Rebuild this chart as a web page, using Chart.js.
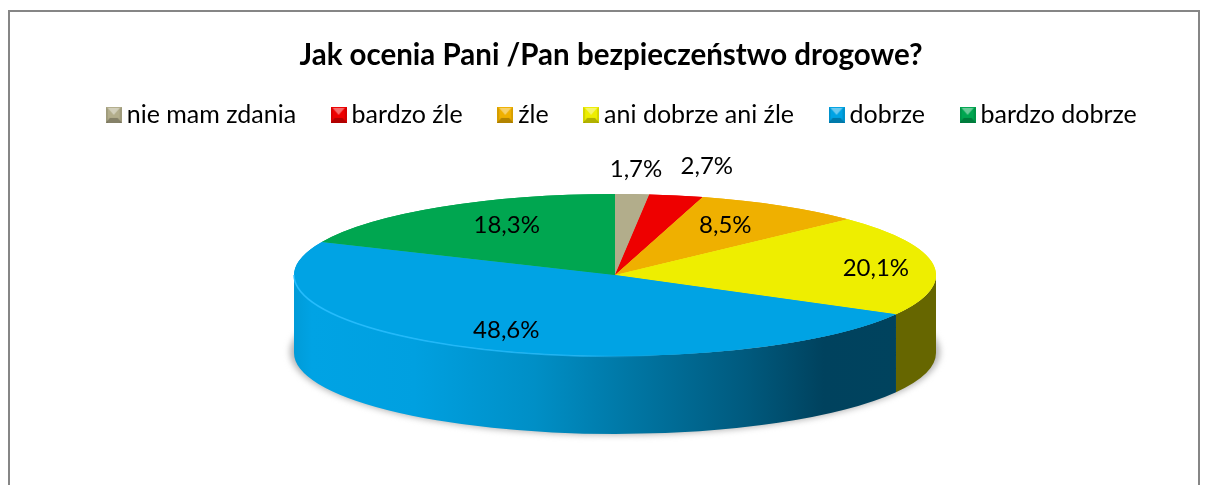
<!DOCTYPE html>
<html><head><meta charset="utf-8">
<style>html,body{margin:0;padding:0;background:#fff}canvas{display:block}</style>
<script src="https://cdn.jsdelivr.net/npm/chart.js@4"></script>
</head><body><canvas id="c" width="1208" height="485"></canvas>
<script>
const categories = ['nie mam zdania','bardzo źle','źle','ani dobrze ani źle','dobrze','bardzo dobrze'];
const values = [1.7,2.7,8.5,20.1,48.6,18.3];
const valueLabels = ['1,7%','2,7%','8,5%','20,1%','48,6%','18,3%'];
const colors = ['#B2AD8B','#EE0000','#EFB000','#EEEE00','#00A3E4','#00A650'];
const titleText = 'Jak ocenia Pani /Pan bezpieczeństwo drogowe?';
const labelNudge = [[9,-49],[49,-53],[-6,-1.5],[38,0],[-8.5,5],[14,-2]];
const wallStops = [
  [null,null],[null,null],[null,null],
  [[0,'#666600'],[1,'#666600']],
  [[0,'#009BD8'],[0.03,'#00A3E4'],[0.2,'#00A0E0'],[0.4,'#008FC6'],[0.55,'#0078A6'],[0.75,'#005A7E'],[0.88,'#00425E'],[1,'#00435E']],
  [null,null]
];
const DISC = {cx:615, cy:275, rx:321, ry:81, depth:78};
const FONT = 'Lato, Carlito, sans-serif';
const LEGEND_SHIFT = 14;

function marker(col){
  const c=document.createElement('canvas');c.width=16;c.height=16;
  const x=c.getContext('2d');
  x.fillStyle=col;x.fillRect(0,0,16,16);
  const tri=(pts,fill)=>{x.beginPath();pts.forEach((p,i)=>i?x.lineTo(p[0],p[1]):x.moveTo(p[0],p[1]));x.closePath();x.fillStyle=fill;x.fill();};
  tri([[2,1],[14,1],[8,8]],'rgba(255,255,255,0.42)');
  tri([[0,16],[16,16],[12,11],[4,11]],'rgba(0,0,0,0.25)');
  tri([[0,0],[2,2],[2,16],[0,16]],'rgba(0,0,0,0.10)');
  tri([[16,0],[14,2],[14,16],[16,16]],'rgba(0,0,0,0.10)');
  return c;
}

const pie3d = {
  id:'pie3d',
  afterLayout(chart){ chart.legend.left+=LEGEND_SHIFT; chart.legend.right+=LEGEND_SHIFT; },
  beforeDraw(chart){
    const g=chart.ctx;
    g.save();g.strokeStyle='#868686';g.lineWidth=2;g.strokeRect(9,11,1190,520);g.restore();
  },
  beforeDatasetsDraw(chart){
    const g=chart.ctx, arcs=chart.getDatasetMeta(0).data, d=DISC;
    g.save();g.filter='blur(3px)';g.fillStyle='#b4b4b4';
    g.beginPath();g.ellipse(d.cx,d.cy+d.depth-1,d.rx+4,d.ry+2,0,0,Math.PI*2);g.fill();g.restore();
    arcs.forEach((a,i)=>{
      const s=Math.max(a.startAngle,0), e=Math.min(a.endAngle,Math.PI);
      if(e<=s||!wallStops[i][0])return;
      const gr=g.createLinearGradient(d.cx+d.rx*Math.cos(e),0,d.cx+d.rx*Math.cos(s),0);
      wallStops[i].forEach(st=>gr.addColorStop(st[0],st[1]));
      g.fillStyle=gr;g.beginPath();
      g.ellipse(d.cx,d.cy,d.rx,d.ry,0,s,e);
      g.ellipse(d.cx,d.cy+d.depth,d.rx,d.ry,0,e,s,true);
      g.closePath();g.fill();
    });
    const a0=arcs[0], R=a0.outerRadius;
    g.save();
    g.translate(d.cx,d.cy);g.scale(d.rx/R,d.ry/R);g.translate(-a0.x,-a0.y);
    for(let p=0;p<2;p++)arcs.forEach(a=>a.draw(g));
    g.restore();
    const hl=g.createLinearGradient(d.cx-d.rx,0,d.cx+40,0);
    hl.addColorStop(0,'rgba(40,190,255,0.9)');hl.addColorStop(0.8,'rgba(40,190,255,0.7)');hl.addColorStop(1,'rgba(40,190,255,0)');
    g.save();g.strokeStyle=hl;g.lineWidth=1.5;g.beginPath();
    g.ellipse(d.cx,d.cy,d.rx,d.ry+0.5,0,Math.PI/2*0.9,Math.PI);g.stroke();g.restore();
    g.save();g.fillStyle='#000';g.font='24px '+FONT;g.textAlign='center';g.textBaseline='middle';
    arcs.forEach((a,i)=>{
      const m=(a.startAngle+a.endAngle)/2;
      g.fillText(valueLabels[i],d.cx+d.rx*0.7*Math.cos(m)+labelNudge[i][0],d.cy+d.ry*0.7*Math.sin(m)+labelNudge[i][1]);
    });
    g.restore();
    return false;
  },
  beforeDatasetDraw(){return false;}
};

new Chart(document.getElementById('c'),{
  type:'doughnut',
  plugins:[pie3d],
  data:{labels:categories,datasets:[{data:values,backgroundColor:colors,borderWidth:0,hoverOffset:0}]},
  options:{
    responsive:false,animation:false,cutout:0,
    layout:{padding:{top:20,left:14,right:0,bottom:0}},
    plugins:{
      tooltip:{enabled:false},
      title:{display:true,text:titleText,color:'#000',font:{family:FONT,size:29.5,weight:'bold'},padding:{top:18,bottom:-13}},
      legend:{position:'top',align:'center',labels:{
        color:'#000',font:{family:FONT,size:25},usePointStyle:true,boxWidth:1,boxHeight:1,pointStyleWidth:1,padding:42,
        generateLabels(chart){return categories.map((t,i)=>({text:t,pointStyle:marker(colors[i]),fillStyle:colors[i],strokeStyle:colors[i],lineWidth:0,index:i,hidden:false,fontColor:'#000'}));}
      }}
    }
  }
});
</script></body></html>
